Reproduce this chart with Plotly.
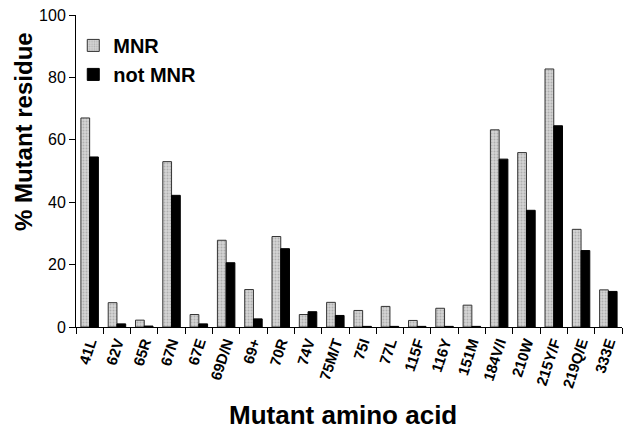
import plotly.graph_objects as go

mutations = ["41L", "62V", "65R", "67N", "67E", "69D/N", "69+", "70R", "74V", "75M/T",
             "75I", "77L", "115F", "116Y", "151M", "184V/I", "210W", "215Y/F", "219Q/E", "333E"]
mnr = [67, 7.8, 2.2, 53, 4, 27.8, 12, 29, 4, 7.9,
       5.3, 6.6, 2.1, 6, 7, 63.2, 55.9, 82.7, 31.3, 11.9]
not_mnr = [54.5, 1, 0.3, 42.2, 1, 20.6, 2.6, 25.1, 4.9, 3.7,
           0.2, 0.2, 0.2, 0.2, 0.2, 53.8, 37.4, 64.5, 24.5, 11.4]

fig = go.Figure()

fig.add_trace(
    go.Bar(
        x=mutations,
        y=mnr,
        name="MNR",
        marker=dict(
            color="#cfcfcf",
            line=dict(color="#333333", width=1),
            pattern=dict(shape=".", fgcolor="#8a8a8a", bgcolor="#d4d4d4", size=3, solidity=0.35),
        ),
    )
)

fig.add_trace(
    go.Bar(
        x=mutations,
        y=not_mnr,
        name="not MNR",
        marker=dict(color="#000000", line=dict(color="#000000", width=1)),
    )
)

# the page body has an 8px margin, so the figure is 8px smaller than the window
fig.update_layout(
    width=625,
    height=425,
    margin=dict(l=68, r=11, t=7, b=106),
    plot_bgcolor="white",
    paper_bgcolor="white",
    barmode="group",
    bargap=0.36,
    bargroupgap=0,
    font=dict(family="Liberation Sans, Arial", color="black"),
    legend=dict(
        x=-0.005, y=0.965, xanchor="left", yanchor="top",
        font=dict(size=20, family="Liberation Sans, Arial", weight="bold"),
        bgcolor="rgba(0,0,0,0)",
        itemwidth=30,
        tracegroupgap=0,
    ),
    showlegend=True,
)

# axis titles as annotations (the y title sits above centre in the original)
fig.add_annotation(
    text="% Mutant residue", textangle=-90,
    xref="paper", yref="paper", x=-0.097, y=0.625,
    xanchor="center", yanchor="middle", showarrow=False,
    font=dict(size=24, weight="bold"),
)
fig.add_annotation(
    text="Mutant amino acid",
    xref="paper", yref="paper", x=0.489, y=-0.282,
    xanchor="center", yanchor="middle", showarrow=False,
    font=dict(size=26, weight="bold"),
)

fig.update_xaxes(
    automargin=False,
    showline=True, linecolor="black", linewidth=1,
    ticks="outside", ticklen=6, tickcolor="black",
    tickson="boundaries",
    tickangle=-72,
    tickfont=dict(size=15, weight="bold"),
    showgrid=False,
)

fig.update_yaxes(
    automargin=False,
    range=[0, 100],
    dtick=20,
    showline=True, linecolor="black", linewidth=1,
    ticks="outside", ticklen=6, tickcolor="black",
    tickfont=dict(size=16),
    ticklabeloverflow="allow",
    showgrid=False,
    zeroline=False,
)

fig.write_html("out.html")
